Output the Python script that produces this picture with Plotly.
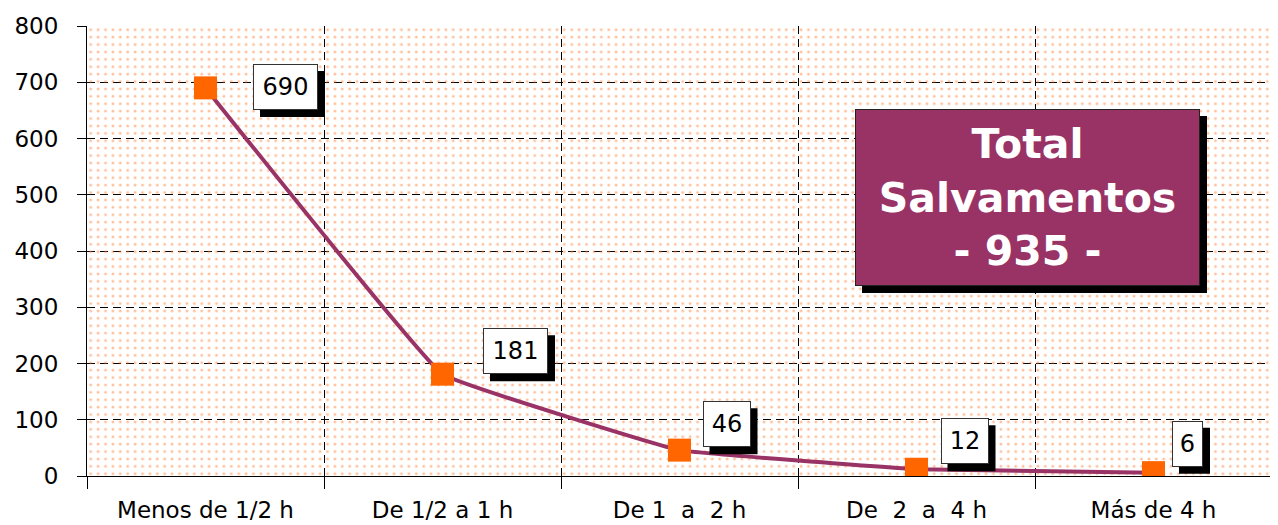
import plotly.graph_objects as go

categories = ["Menos de 1/2 h", "De 1/2 a 1 h", "De 1\u00a0\u00a0a\u00a0\u00a02 h",
              "De\u00a0\u00a02\u00a0\u00a0a\u00a0\u00a04 h", "Más de 4 h"]
values = [690, 181, 46, 12, 6]
y_ticks = [0, 100, 200, 300, 400, 500, 600, 700, 800]
total_title = ["Total", "Salvamentos"]

# label box offsets (pixels) relative to the marker
label_dx = [80, 73, 47, 48, 34]
label_dy = [1, 23, 26, 28, 29]

FONT = "DejaVu Sans, Arial, sans-serif"
LINE_COLOR = "#993366"
MARK_COLOR = "#FF6600"
SH = 7  # shadow offset px

# page has an 8px body margin; figure sized/laid out to compensate
PAGE_OFF = 8
FIG_W, FIG_H = 1270, 517
PL, PT, PW, PH = 87 - PAGE_OFF, 26 - PAGE_OFF, 1185, 450

xs = list(range(len(categories)))

fig = go.Figure()

# dotted background (hidden main axes, 0..1)
fig.add_trace(go.Bar(
    x=[0.5], y=[1], width=[1], xaxis="x", yaxis="y",
    marker=dict(color="rgba(0,0,0,0)", line=dict(width=0),
                pattern=dict(shape=".", fgcolor="#FF8033", bgcolor="rgba(0,0,0,0)",
                             size=7.4, solidity=0.12, fillmode="overlay")),
    hoverinfo="skip", showlegend=False,
))

fig.add_trace(go.Scatter(
    x=xs, y=values, xaxis="x2", yaxis="y2", mode="lines+markers",
    line=dict(color=LINE_COLOR, width=4, shape="spline", smoothing=0.2),
    marker=dict(symbol="square", size=23, color=MARK_COLOR, line=dict(width=0)),
    showlegend=False,
))

annotations = []
shapes = []
H = 46
for i, v in enumerate(values):
    w = 17 * len(str(v)) + 14
    dx, dy = label_dx[i], label_dy[i]
    shapes.append(dict(type="rect", xref="x2", yref="y2", xsizemode="pixel", ysizemode="pixel",
                       xanchor=xs[i], yanchor=v,
                       x0=dx - w / 2 + SH, x1=dx + w / 2 + SH,
                       y0=dy - H / 2 - SH, y1=dy + H / 2 - SH,
                       fillcolor="black", line=dict(width=0), layer="above"))
    annotations.append(dict(x=xs[i], y=v, xref="x2", yref="y2", showarrow=False,
                            xanchor="center", yanchor="middle",
                            width=w - 2, height=H - 2, borderpad=0, borderwidth=1,
                            font=dict(family=FONT, size=24, color="black"), text=str(v),
                            xshift=dx, yshift=dy,
                            bgcolor="white", bordercolor="#333333"))

# total box (page pixel coordinates)
BX0, BX1, BY0, BY1 = 855 - PAGE_OFF, 1200 - PAGE_OFF, 109 - PAGE_OFF, 286 - PAGE_OFF
def px2paper_x(p): return (p - PL) / PW
def px2paper_y(p): return (PT + PH - p) / PH

shapes.append(dict(type="rect", xref="paper", yref="paper",
                   x0=px2paper_x(BX0 + SH), x1=px2paper_x(BX1 + SH),
                   y0=px2paper_y(BY1 + SH), y1=px2paper_y(BY0 + SH),
                   fillcolor="black", line=dict(width=0), layer="above"))
total_text = "<br>".join("<b>%s</b>" % t for t in total_title + ["- %d -" % sum(values)])
annotations.append(dict(x=px2paper_x((BX0 + BX1) / 2), y=px2paper_y((BY0 + BY1) / 2),
                        xref="paper", yref="paper", showarrow=False,
                        xanchor="center", yanchor="middle",
                        width=BX1 - BX0 - 2, height=BY1 - BY0 - 2, borderpad=0, borderwidth=1,
                        font=dict(family=FONT, size=41, color="white"),
                        text=total_text, bgcolor="#993366", bordercolor="#222222"))

dash = "8px,5px"
# right-edge dashed border
shapes.append(dict(type="line", xref="paper", yref="paper", x0=1, x1=1, y0=0, y1=1,
                   line=dict(color="black", width=1, dash=dash), layer="below"))

fig.update_layout(
    width=FIG_W, height=FIG_H,
    margin=dict(l=PL, r=FIG_W - PL - PW, t=PT, b=FIG_H - PT - PH, autoexpand=False),
    paper_bgcolor="white", plot_bgcolor="white",
    showlegend=False,
    xaxis=dict(range=[0, 1], visible=False, fixedrange=True, automargin=False),
    yaxis=dict(range=[0, 1], visible=False, fixedrange=True, automargin=False),
    xaxis2=dict(overlaying="x", range=[-0.5, len(categories) - 0.5], automargin=False,
                tickmode="array", tickvals=xs, ticktext=categories,
                ticks="outside", ticklen=13, tickcolor="rgba(0,0,0,0)",
                showgrid=False, zeroline=False,
                showline=True, linecolor="black", linewidth=1,
                tickfont=dict(family=FONT, size=23, color="black"),
                minor=dict(tickmode="linear", tick0=-0.5, dtick=1, ticks="outside",
                           ticklen=12, tickcolor="black", tickwidth=1,
                           showgrid=True, gridcolor="black", gridwidth=1, griddash=dash)),
    yaxis2=dict(overlaying="y", range=[0, 800], tickmode="array", tickvals=y_ticks,
                automargin=False,
                ticks="outside", ticklen=9, tickcolor="black", tickwidth=1,
                ticklabelstandoff=14,
                showgrid=True, gridcolor="black", gridwidth=1, griddash=dash,
                zeroline=False, showline=True, linecolor="black", linewidth=1,
                tickfont=dict(family=FONT, size=23, color="black")),
    annotations=annotations,
    shapes=shapes,
    bargap=0,
)

fig.write_html("out.html")
